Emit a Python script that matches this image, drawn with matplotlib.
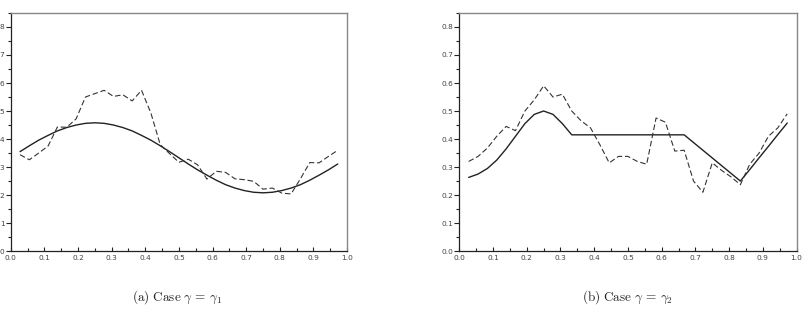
import matplotlib
matplotlib.use("Agg")
import matplotlib.pyplot as plt
from matplotlib.ticker import MultipleLocator, FormatStrFormatter

plt.rcParams['mathtext.fontset'] = 'cm'

# x positions k/36, k=1..35
x = [k / 36 for k in range(1, 36)]

# Panel (a)
a_true = [3.55, 3.76, 3.96, 4.13, 4.29, 4.41, 4.50, 4.56, 4.58, 4.56, 4.50, 4.41,
          4.29, 4.13, 3.96, 3.76, 3.55, 3.33, 3.11, 2.90, 2.71, 2.53, 2.37, 2.25,
          2.16, 2.10, 2.08, 2.10, 2.16, 2.25, 2.37, 2.53, 2.71, 2.90, 3.11]
a_est = [3.44, 3.26, 3.50, 3.75, 4.43, 4.42, 4.72, 5.50, 5.62, 5.74, 5.52, 5.58,
         5.36, 5.74, 4.93, 3.80, 3.48, 3.17, 3.28, 3.08, 2.57, 2.85, 2.81, 2.58,
         2.55, 2.49, 2.21, 2.25, 2.07, 2.04, 2.58, 3.16, 3.15, 3.38, 3.60]

# Panel (b)
b_true = [0.263, 0.275, 0.295, 0.325, 0.365, 0.410, 0.455, 0.488, 0.500, 0.488,
          0.455, 0.415, 0.415, 0.415, 0.415, 0.415, 0.415, 0.415, 0.415, 0.415,
          0.415, 0.415, 0.415, 0.415, 0.3875, 0.360, 0.3325, 0.305, 0.2775, 0.250,
          0.291, 0.333, 0.374, 0.416, 0.457]
b_est = [0.320, 0.338, 0.368, 0.410, 0.445, 0.430, 0.500, 0.540, 0.590, 0.550,
         0.560, 0.500, 0.465, 0.440, 0.380, 0.315, 0.338, 0.338, 0.320, 0.310,
         0.475, 0.460, 0.357, 0.360, 0.250, 0.210, 0.315, 0.288, 0.265, 0.237,
         0.310, 0.350, 0.410, 0.440, 0.490]

captions = [r"$\mathrm{(a)\ Case}\ \gamma\,=\,\gamma_1$", r"$\mathrm{(b)\ Case}\ \gamma\,=\,\gamma_2$"]

fig = plt.figure(figsize=(8.03, 3.24), dpi=100)
ax1 = fig.add_axes([0.0133, 0.225, 0.419, 0.735])
ax2 = fig.add_axes([0.572, 0.225, 0.420, 0.735])

panels = [
    (ax1, a_true, a_est, 8.5, 1.0, 0.5, "%d"),
    (ax2, b_true, b_est, 0.85, 0.1, 0.05, "%.1f"),
]
for ax, tr, es, ymax, ymaj, ymin, fmt in panels:
    ax.plot(x, tr, color="#222222", lw=1.0, solid_capstyle="round")
    ax.plot(x, es, color="#333333", lw=0.8, linestyle=(0, (5, 2.5)))
    ax.set_xlim(0, 1)
    ax.set_ylim(0, ymax)
    ax.xaxis.set_major_locator(MultipleLocator(0.1))
    ax.xaxis.set_minor_locator(MultipleLocator(0.05))
    ax.yaxis.set_major_locator(MultipleLocator(ymaj))
    ax.yaxis.set_minor_locator(MultipleLocator(ymin))
    ax.xaxis.set_major_formatter(FormatStrFormatter("%.1f"))
    ax.yaxis.set_major_formatter(FormatStrFormatter(fmt))
    ax.tick_params(axis="x", which="major", direction="in", length=3, width=0.8,
                   labelsize=5.3, pad=3, colors="#222222", labelcolor="#444444")
    ax.tick_params(axis="x", which="minor", direction="in", length=2, width=0.8,
                   colors="#222222")
    ax.tick_params(axis="y", which="major", direction="out", length=3.5, width=0.8,
                   labelsize=5.3, pad=1, colors="#222222", labelcolor="#444444")
    ax.tick_params(axis="y", which="minor", direction="out", length=2, width=0.8,
                   colors="#222222")
    for s in ("top", "right"):
        ax.spines[s].set_color("#888888")
        ax.spines[s].set_linewidth(1.0)
    for s in ("bottom", "left"):
        ax.spines[s].set_color("#222222")
        ax.spines[s].set_linewidth(0.9)

fig.text(0.220, 0.083, captions[0], ha="center", va="center", fontsize=9.5, color="#222222")
fig.text(0.781, 0.083, captions[1], ha="center", va="center", fontsize=9.5, color="#222222")

fig.savefig("out.png", dpi=100)
